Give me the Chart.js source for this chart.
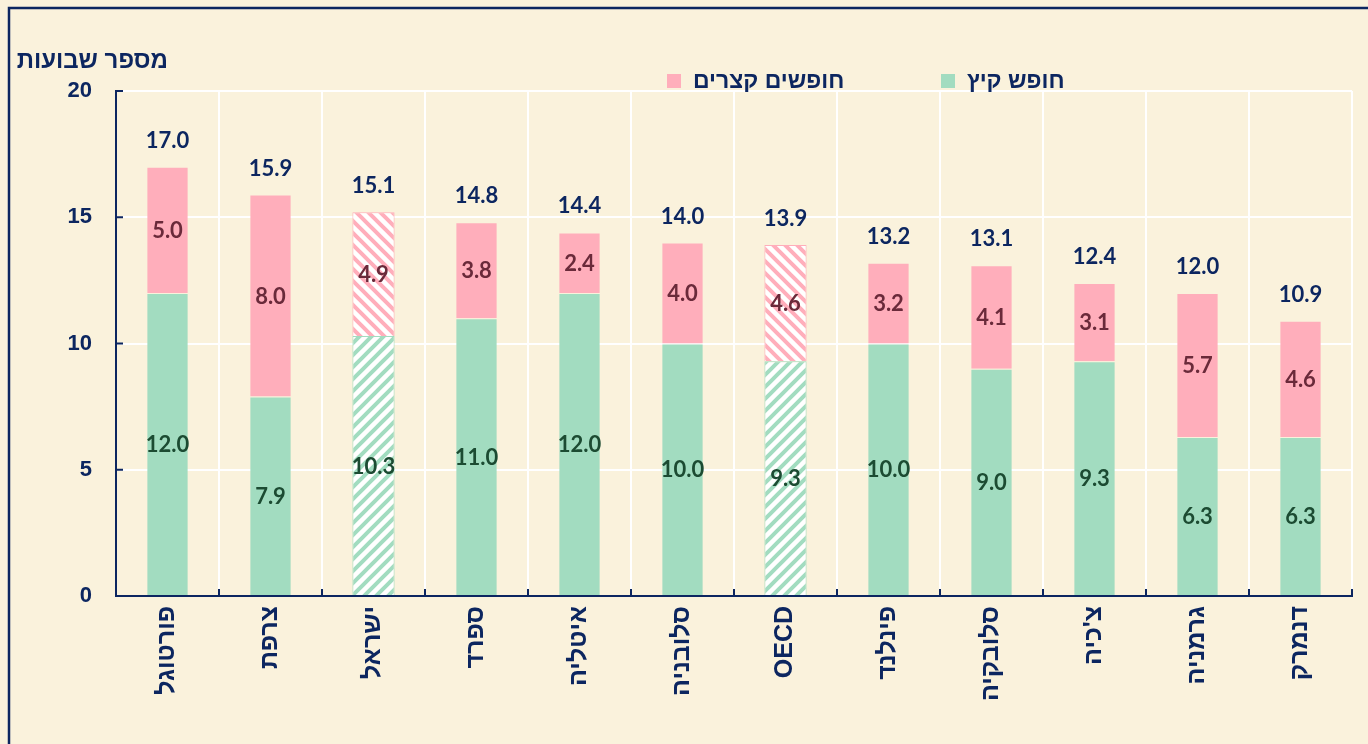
<!DOCTYPE html>
<html lang="he">
<head>
<meta charset="utf-8">
<script src="https://cdn.jsdelivr.net/npm/chart.js@4.4.1/dist/chart.umd.min.js"></script>
<style>
  html, body { margin: 0; padding: 0; background: #FAF2DC; }
  canvas { display: block; }
</style>
</head>
<body>
<canvas id="holidayChart" width="1368" height="744"></canvas>
<script>
// Weeks of school vacation by country
const countries = ['פורטוגל', 'צרפת', 'ישראל', 'ספרד', 'איטליה', 'סלובניה', 'OECD', 'פינלנד', 'סלובקיה', "צ'כיה", 'גרמניה', 'דנמרק'];
const summerWeeks = [12.0, 7.9, 10.3, 11.0, 12.0, 10.0, 9.3, 10.0, 9.0, 9.3, 6.3, 6.3];
const shortWeeks = [5.0, 8.0, 4.9, 3.8, 2.4, 4.0, 4.6, 3.2, 4.1, 3.1, 5.7, 4.6];
const totalWeeks = [17.0, 15.9, 15.1, 14.8, 14.4, 14.0, 13.9, 13.2, 13.1, 12.4, 12.0, 10.9];
const hatchedCountries = ['ישראל', 'OECD'];
const seriesNames = ['חופש קיץ', 'חופשים קצרים'];
const yTitle = 'מספר שבועות';

const NAVY = '#0C2660';
const GREEN = '#A2DCC0';
const PINK = '#FFAEBB';
const BG = '#FAF2DC';

// diagonal stripe pattern for the hatched bars
function makeHatch(color, backslash) {
    const size = 12;
    const c = document.createElement('canvas');
    c.width = size;
    c.height = size;
    const g = c.getContext('2d');
    g.fillStyle = '#ffffff';
    g.fillRect(0, 0, size, size);
    g.strokeStyle = color;
    g.lineWidth = 4;
    g.beginPath();
    if (backslash) {
        g.moveTo(-size, 0); g.lineTo(size, 2 * size);
        g.moveTo(0, 0); g.lineTo(size, size);
        g.moveTo(0, -size); g.lineTo(2 * size, size);
    } else {
        g.moveTo(0, size); g.lineTo(size, 0);
        g.moveTo(-size, size); g.lineTo(size, -size);
        g.moveTo(0, 2 * size); g.lineTo(2 * size, 0);
    }
    g.stroke();
    return g.createPattern(c, 'repeat');
}

const greenHatch = makeHatch(GREEN, false);
const pinkHatch = makeHatch(PINK, true);

const summerFill = countries.map(c => hatchedCountries.includes(c) ? greenHatch : GREEN);
const shortFill = countries.map(c => hatchedCountries.includes(c) ? pinkHatch : PINK);
const summerBorder = countries.map(c => hatchedCountries.includes(c) ? GREEN : 'rgba(0,0,0,0)');
const shortBorder = countries.map(c => hatchedCountries.includes(c) ? PINK : 'rgba(0,0,0,0)');

// background and outer frame
const framePlugin = {
    id: 'frame',
    beforeDraw(chart) {
        const ctx = chart.ctx;
        ctx.save();
        ctx.fillStyle = BG;
        ctx.fillRect(0, 0, chart.width, chart.height);
        ctx.strokeStyle = NAVY;
        ctx.lineWidth = 2.5;
        ctx.strokeRect(9, 8, chart.width + 20, chart.height + 20);
        ctx.restore();
    }
};

// small inward tick marks on both axes
const innerTicksPlugin = {
    id: 'innerTicks',
    afterDatasetsDraw(chart) {
        const ctx = chart.ctx;
        const area = chart.chartArea;
        const y = chart.scales.y;
        ctx.save();
        ctx.strokeStyle = NAVY;
        ctx.lineWidth = 2;
        ctx.beginPath();
        y.ticks.forEach(t => {
            if (t.value === 0) return;
            const py = y.getPixelForValue(t.value);
            ctx.moveTo(area.left, py);
            ctx.lineTo(area.left + 7, py);
        });
        const step = (area.right - area.left) / countries.length;
        for (let i = 1; i <= countries.length; i++) {
            const px = area.left + step * i;
            ctx.moveTo(px, area.bottom);
            ctx.lineTo(px, area.bottom - 7);
        }
        ctx.stroke();
        ctx.restore();
    }
};

// value labels inside segments and totals above bars
const labelsPlugin = {
    id: 'barLabels',
    afterDatasetsDraw(chart) {
        const ctx = chart.ctx;
        ctx.save();
        ctx.textAlign = 'center';
        ctx.textBaseline = 'middle';
        ctx.font = 'bold 22px Lato, "Open Sans", sans-serif';
        const colors = ['#1C4B32', '#6A2A3A'];
        chart.data.datasets.forEach((ds, di) => {
            const meta = chart.getDatasetMeta(di);
            meta.data.forEach((bar, i) => {
                ctx.fillStyle = colors[di];
                ctx.fillText(ds.data[i].toFixed(1), bar.x, (bar.y + bar.base) / 2 + 1);
            });
        });
        const top = chart.getDatasetMeta(1);
        ctx.fillStyle = NAVY;
        top.data.forEach((bar, i) => {
            ctx.fillText(totalWeeks[i].toFixed(1), bar.x, bar.y - 26);
        });
        ctx.restore();
    }
};

// legend and y axis title
const legendPlugin = {
    id: 'customLegend',
    afterDraw(chart) {
        const ctx = chart.ctx;
        ctx.save();
        ctx.textBaseline = 'middle';
        ctx.fillStyle = NAVY;
        ctx.textAlign = 'right';
        ctx.font = 'bold 24px "Liberation Sans", Arial, sans-serif';
        ctx.fillText(yTitle, 168, 61);

        ctx.font = 'bold 23px "Liberation Sans", Arial, sans-serif';
        const items = [
            { text: seriesNames[1], color: PINK, x: 667 },
            { text: seriesNames[0], color: GREEN, x: 941 }
        ];
        items.forEach(it => {
            ctx.fillStyle = it.color;
            ctx.fillRect(it.x, 74, 14, 14);
            ctx.fillStyle = NAVY;
            ctx.textAlign = 'left';
            ctx.fillText(it.text, it.x + 26, 82);
        });
        ctx.restore();
    }
};

const chartData = {
    labels: countries,
    datasets: [{
        label: seriesNames[0],
        data: summerWeeks,
        backgroundColor: summerFill,
        borderColor: summerBorder,
        borderWidth: 1,
        barPercentage: 0.41,
        categoryPercentage: 1
    }, {
        label: seriesNames[1],
        data: shortWeeks,
        backgroundColor: shortFill,
        borderColor: shortBorder,
        borderWidth: 1,
        barPercentage: 0.41,
        categoryPercentage: 1
    }]
};

const chartConfig = {
    type: 'bar',
    data: chartData,
    options: {
        responsive: false,
        animation: false,
        layout: {
            padding: { top: 91, right: 16, left: 0, bottom: 0 }
        },
        plugins: {
            legend: { display: false },
            tooltip: { enabled: false }
        },
        scales: {
            x: {
                stacked: true,
                afterFit(scale) { scale.height = 148; },
                grid: {
                    color: '#ffffff',
                    lineWidth: 2,
                    offset: true,
                    drawTicks: false
                },
                border: { color: NAVY, width: 2 },
                ticks: {
                    color: NAVY,
                    font: { family: '"Liberation Sans", Arial, sans-serif', size: 25, weight: 'bold' },
                    minRotation: 90,
                    maxRotation: 90,
                    padding: 10,
                    autoSkip: false
                }
            },
            y: {
                stacked: true,
                min: 0,
                max: 20,
                afterFit(scale) { scale.width = 116; },
                grid: {
                    color: '#ffffff',
                    lineWidth: 2,
                    drawTicks: false
                },
                border: { color: NAVY, width: 2 },
                ticks: {
                    stepSize: 5,
                    color: NAVY,
                    font: { family: '"Liberation Sans", Arial, sans-serif', size: 22, weight: 'bold' },
                    padding: 24
                }
            }
        }
    },
    plugins: [framePlugin, innerTicksPlugin, labelsPlugin, legendPlugin]
};

document.addEventListener('DOMContentLoaded', function () {
    const canvas = document.getElementById('holidayChart');
    if (canvas) {
        new Chart(canvas, chartConfig);
    }
});
</script>
</body>
</html>
